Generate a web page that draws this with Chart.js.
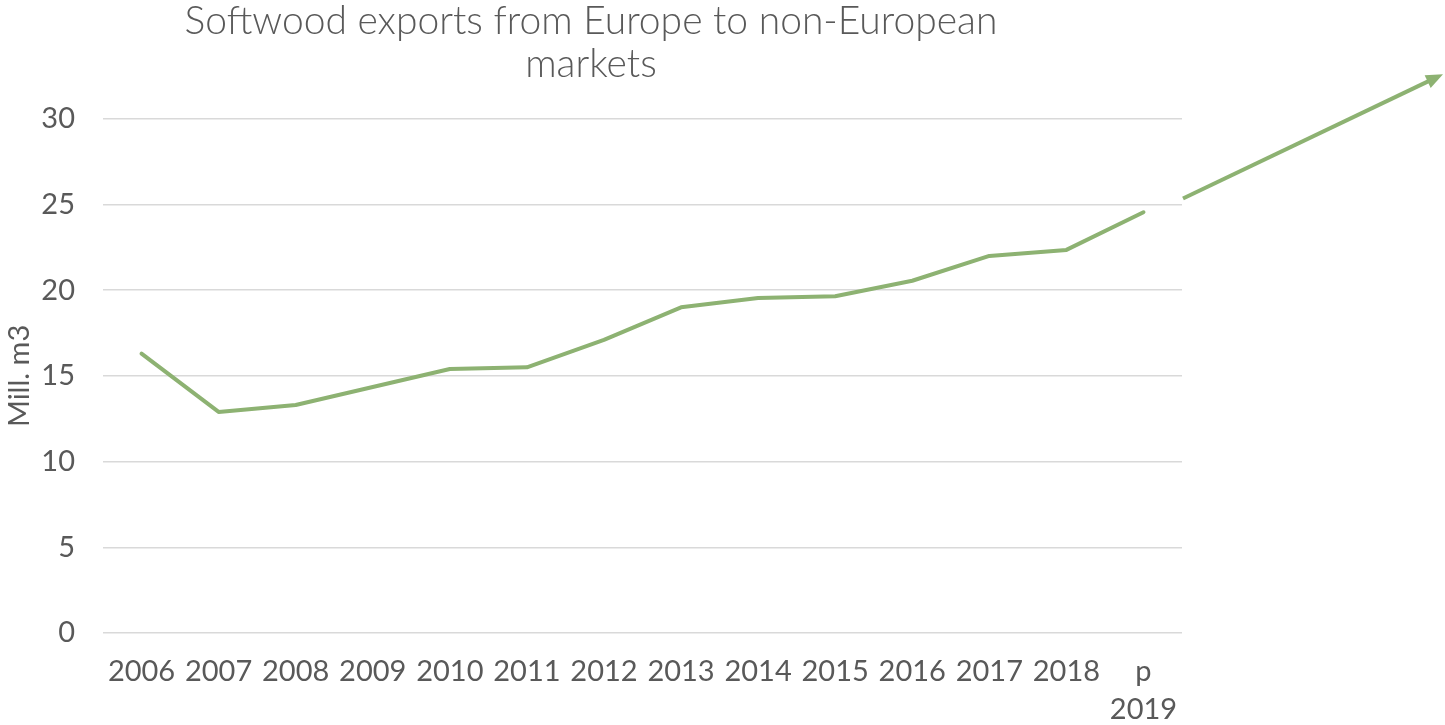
<!DOCTYPE html>
<html>
<head>
<meta charset="utf-8">
<title>Softwood exports</title>
<script src="https://cdn.jsdelivr.net/npm/chart.js@4/dist/chart.umd.min.js"></script>
<style>
  html, body { margin: 0; padding: 0; background: #fff; }
  #wrap { width: 1445px; height: 725px; }
</style>
</head>
<body>
<div id="wrap"><canvas id="exportsChart" width="1445" height="725"></canvas></div>
<script>
// Softwood exports from Europe to non-European markets, mill. m3
const years = ['2006', '2007', '2008', '2009', '2010', '2011', '2012', '2013', '2014', '2015', '2016', '2017', '2018', ['p', '2019']];
const exportsVolume = [16.3, 12.9, 13.3, 14.35, 15.4, 15.5, 17.1, 19.0, 19.55, 19.65, 20.55, 22.0, 22.35, 24.55];
const yTicks = [0, 5, 10, 15, 20, 25, 30];

// trend arrow outside the plot, from the right edge of the plot to the canvas edge
const arrowFrom = 25.35;
const arrowTo = 32.6;

const textColor = '#595959';
const lineColor = '#8db272';
const fontFamily = '"Century Gothic", Lato, "Noto Sans", sans-serif';

const trendArrow = {
    id: 'trendArrow',
    afterDraw(chart) {
        const ctx = chart.ctx;
        const y = chart.scales.y;
        const x0 = chart.chartArea.right + 1;
        const x1 = chart.width - 2;
        const y0 = y.getPixelForValue(arrowFrom);
        const y1 = y.getPixelForValue(arrowTo);
        const ang = Math.atan2(y1 - y0, x1 - x0);
        const head = 17;
        ctx.save();
        ctx.strokeStyle = lineColor;
        ctx.fillStyle = lineColor;
        ctx.lineWidth = 4;
        ctx.beginPath();
        ctx.moveTo(x0, y0);
        ctx.lineTo(x1 - head * 0.8 * Math.cos(ang), y1 - head * 0.8 * Math.sin(ang));
        ctx.stroke();
        ctx.beginPath();
        ctx.moveTo(x1, y1);
        ctx.lineTo(x1 - head * Math.cos(ang) + 7 * Math.sin(ang), y1 - head * Math.sin(ang) - 7 * Math.cos(ang));
        ctx.lineTo(x1 - head * Math.cos(ang) - 7 * Math.sin(ang), y1 - head * Math.sin(ang) + 7 * Math.cos(ang));
        ctx.closePath();
        ctx.fill();
        ctx.restore();
    }
};

const ctx = document.getElementById('exportsChart').getContext('2d');
const exportsChart = new Chart(ctx, {
    type: 'line',
    data: {
        labels: years,
        datasets: [{
            label: 'Softwood exports',
            data: exportsVolume,
            borderColor: lineColor,
            borderWidth: 4,
            borderCapStyle: 'round',
            borderJoinStyle: 'round',
            pointRadius: 0,
            tension: 0,
            fill: false
        }]
    },
    options: {
        responsive: false,
        animation: false,
        layout: {
            padding: { left: 0, right: 263, top: 0, bottom: 0 }
        },
        plugins: {
            legend: { display: false },
            tooltip: { enabled: false },
            title: {
                display: true,
                text: ['Softwood exports from Europe to non-European', 'markets'],
                color: textColor,
                font: { family: fontFamily, size: 39, weight: 300, lineHeight: 1.1 },
                padding: { top: 0, bottom: 33 }
            }
        },
        scales: {
            x: {
                offset: true,
                grid: { display: false },
                border: { display: false },
                ticks: {
                    color: textColor,
                    font: { family: fontFamily, size: 29, lineHeight: 1.3 },
                    autoSkip: false,
                    maxRotation: 0,
                    padding: 12
                },
                afterFit(scale) { scale.height = 92; }
            },
            y: {
                min: 0,
                max: 30,
                afterBuildTicks(scale) {
                    scale.ticks = yTicks.map(v => ({ value: v }));
                },
                grid: { color: '#d9d9d9', lineWidth: 1.5, drawTicks: false },
                border: { display: false },
                ticks: {
                    color: textColor,
                    font: { family: fontFamily, size: 29 },
                    padding: 28
                },
                title: {
                    display: true,
                    text: 'Mill. m3',
                    color: textColor,
                    font: { family: fontFamily, size: 29 },
                    padding: { top: 2, bottom: 0 }
                },
                afterFit(scale) { scale.width = 103; }
            }
        }
    },
    plugins: [trendArrow]
});
</script>
</body>
</html>
